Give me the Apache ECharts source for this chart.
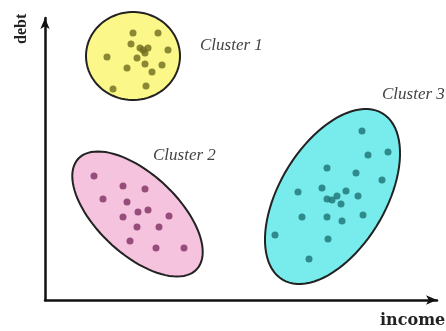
<!DOCTYPE html>
<html>
<head>
<meta charset="utf-8">
<script src="https://cdn.jsdelivr.net/npm/echarts@6/dist/echarts.min.js"></script>
<style>
  html, body { margin: 0; padding: 0; background: #fff; }
  #main { width: 446px; height: 331px; }
</style>
</head>
<body>
<div id="main"></div>
<script>
// points (income, debt)
var cluster1 = [[88,267],[113,267],[86,256],[95,252],[103,252],[123,250],[100,247],[92,242],
    [62,243],[117,235],[100,236],[82,232],[107,228],[68,211],[101,214],[98,250]];
var cluster2 = [[49,124],[78,114],[100,111],[58,101],[82,98],[103,90],[93,88],[78,83],
    [124,84],[92,73],[114,73],[85,59],[111,52],[139,52]];
var cluster3 = [[317,169],[343,148],[323,145],[282,132],[311,127],[337,120],[253,108],[277,112],
    [301,109],[292,104],[282,101],[287,100],[313,104],[296,96],[257,83],[282,83],[297,79],
    [318,85],[230,65],[283,61],[264,41]];

// cluster outlines: centre, semi-axes, tilt (deg)
var clusterNames = ['Cluster 1', 'Cluster 2', 'Cluster 3'];
var ellipseCenters = [[88,244],[92.5,86],[287.5,103.5]];
var ellipseAxes = [[47,44],[81,40],[97,53]];
var ellipseTilts = [0, -43, 59];

var fills = ['#fbf788', '#f6c3df', '#78ecec'];
var dotColors = ['#6e6b1e', '#7e2f60', '#1b7273'];

var myChart = echarts.init(document.getElementById('main'));

var ellipseData = ellipseCenters.map(function (c, i) {
    return [c[0], c[1], ellipseAxes[i][0], ellipseAxes[i][1], ellipseTilts[i], i];
});

function renderEllipse(params, api) {
    var cx = api.value(0), cy = api.value(1);
    var a = api.value(2), b = api.value(3);
    var t = api.value(4) * Math.PI / 180;
    var idx = api.value(5);
    var pts = [];
    for (var k = 0; k < 90; k++) {
        var u = k / 90 * Math.PI * 2;
        var x = a * Math.cos(u), y = b * Math.sin(u);
        pts.push(api.coord([cx + x * Math.cos(t) - y * Math.sin(t),
                            cy + x * Math.sin(t) + y * Math.cos(t)]));
    }
    return {
        type: 'polygon',
        shape: { points: pts },
        style: { fill: fills[idx], stroke: '#222', lineWidth: 2 }
    };
}

function dots(data, i) {
    return {
        type: 'scatter',
        data: data,
        symbol: 'circle',
        symbolSize: 7,
        itemStyle: { color: dotColors[i] },
        z: 3,
        silent: true
    };
}

var axisCommon = {
    type: 'value',
    splitLine: { show: false },
    axisTick: { show: false },
    axisLabel: { show: false },
    axisLine: {
        show: true,
        onZero: false,
        symbol: ['none', 'arrow'],
        symbolSize: [7, 11],
        lineStyle: { color: '#111', width: 2.5 }
    }
};

var labelFont = 'italic 17px "Liberation Serif"';

var option = {
    backgroundColor: '#fff',
    animation: false,
    grid: { left: 45, right: 9, top: 18, bottom: 31 },
    xAxis: Object.assign({ min: 0, max: 392 }, axisCommon),
    yAxis: Object.assign({ min: 0, max: 282 }, axisCommon),
    series: [
        {
            type: 'custom',
            renderItem: renderEllipse,
            data: ellipseData,
            z: 1,
            silent: true
        },
        dots(cluster1, 0),
        dots(cluster2, 1),
        dots(cluster3, 2)
    ],
    graphic: [
        { type: 'text', left: 200, top: 37, style: { text: clusterNames[0], font: labelFont, fill: '#444' } },
        { type: 'text', left: 153, top: 147, style: { text: clusterNames[1], font: labelFont, fill: '#444' } },
        { type: 'text', left: 382, top: 86, style: { text: clusterNames[2], font: labelFont, fill: '#444' } },
        { type: 'text', left: 380, top: 313, style: { text: 'income', font: 'bold 16px "DejaVu Serif"', fill: '#222' } },
        { type: 'text', x: 14, y: 44, rotation: Math.PI / 2, style: { text: 'debt', font: 'bold 16px "Liberation Serif"', fill: '#222' } }
    ]
};

myChart.setOption(option);
</script>
</body>
</html>
